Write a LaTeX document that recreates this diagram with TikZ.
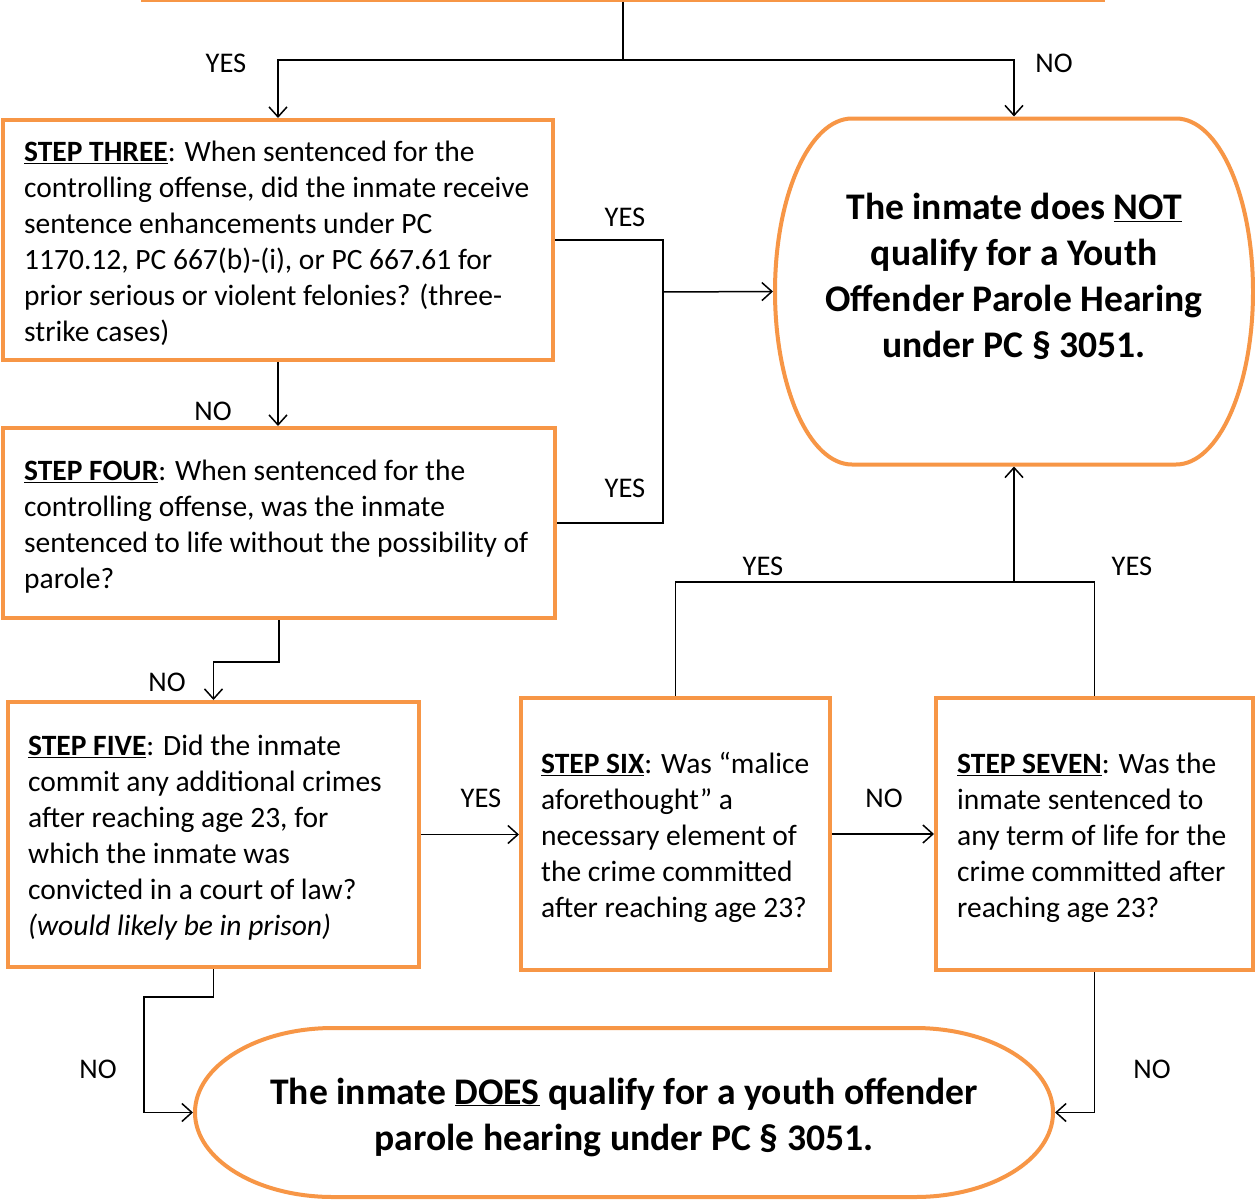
\documentclass[tikz,border=0pt]{standalone}
\usepackage{fontspec}
\setmainfont{Carlito}
\usetikzlibrary{arrows.meta}
\definecolor{borange}{HTML}{F79646}
\begin{document}
\begin{tikzpicture}[x=1pt,y=1pt,
 box/.style={draw=borange,line width=4pt,rectangle,inner sep=0pt},
 term/.style={rectangle,inner sep=0pt,outer sep=0pt},
 tborder/.style={draw=borange,line width=4pt},
 body/.style={anchor=west,align=left,inner sep=0pt,font=\fontsize{29.5}{36}\selectfont},
 big/.style={align=center,inner sep=0pt,font=\fontsize{37.6}{46}\selectfont\bfseries},
 lab/.style={font=\fontsize{28.5}{32}\selectfont,inner sep=0pt},
 conn/.style={draw=black,line width=1.5pt},
 arr/.style={conn,-{Straight Barb[length=10pt,width=18pt,line width=1.5pt]}},
]
\useasboundingbox (0,0) rectangle (1255,-1199);
\clip (0,0) rectangle (1255,-1199);
\fill[white] (0,0) rectangle (1255,-1199);

% boxes
\node[box,minimum width=960pt,minimum height=40pt] (b2) at (623,20) {};
\node[box,minimum width=550pt,minimum height=240pt] (b3) at (278,-240) {};
\node[box,minimum width=552pt,minimum height=190pt] (b4) at (279,-523) {};
\node[box,minimum width=411pt,minimum height=265pt] (b5) at (213.5,-834.5) {};
\node[box,minimum width=309pt,minimum height=272pt] (b6) at (675.5,-834) {};
\node[box,minimum width=317pt,minimum height=272pt] (b7) at (1094.5,-834) {};

% terminators
\node[term,minimum width=478pt,minimum height=346pt] (not) at (1014,-291.5) {};
\draw[tborder] ([xshift=77pt]not.north west) -- ([xshift=-77pt]not.north east)
  arc[start angle=90,end angle=-90,x radius=77pt,y radius=173pt]
  -- ([xshift=77pt]not.south west)
  arc[start angle=270,end angle=90,x radius=77pt,y radius=173pt] -- cycle;
\node[term,minimum width=858pt,minimum height=169pt] (does) at (624,-1112.5) {};
\draw[tborder] ([xshift=138pt]does.north west) -- ([xshift=-138pt]does.north east)
  arc[start angle=90,end angle=-90,x radius=138pt,y radius=84.5pt]
  -- ([xshift=138pt]does.south west)
  arc[start angle=270,end angle=90,x radius=138pt,y radius=84.5pt] -- cycle;

% texts
\node[body] (t3) at ([xshift=23pt,yshift=-3.5pt]b3.west) {\underline{\textbf{STEP THREE}}: When sentenced for the\\controlling offense, did the inmate receive\\sentence enhancements under PC\\1170.12, PC 667(b)-(i), or PC 667.61 for\\prior serious or violent felonies? (three-\\strike cases)};
\node[body] (t4) at ([xshift=23pt,yshift=-3.5pt]b4.west) {\underline{\textbf{STEP FOUR}}: When sentenced for the\\controlling offense, was the inmate\\sentenced to life without the possibility of\\parole?};
\node[body] (t5) at ([xshift=22pt,yshift=-3.5pt]b5.west) {\underline{\textbf{STEP FIVE}}: Did the inmate\\commit any additional crimes\\after reaching age 23, for\\which the inmate was\\convicted in a court of law?\\\textit{(would likely be in prison)}};
\node[body] (t6) at ([xshift=22pt,yshift=-3.5pt]b6.west) {\underline{\textbf{STEP SIX}}: Was “malice\\aforethought” a\\necessary element of\\the crime committed\\after reaching age 23?};
\node[body] (t7) at ([xshift=23pt,yshift=-3.5pt]b7.west) {\underline{\textbf{STEP SEVEN}}: Was the\\inmate sentenced to\\any term of life for the\\crime committed after\\reaching age 23?};
\node[big] (tnot) at (1014,-276) {The inmate does \underline{NOT}\\qualify for a Youth\\Offender Parole Hearing\\under PC § 3051.};
\node[big] (tdoes) at (624,-1117) {The inmate \underline{DOES} qualify for a youth offender\\parole hearing under PC § 3051.};

% connectors
\coordinate (j0) at (623,-60);
\draw[conn] (b2.south) -- (j0);
\draw[arr] (j0) -| (b3.north);
\draw[arr] (j0) -| ([yshift=2pt]not.north);
\coordinate (jy) at (663,-292);
\draw[conn] (b3.east) -| (jy);
\draw[conn] (b4.east) -| (jy);
\draw[arr] (jy) -- ([xshift=-2pt]not.west);
\draw[arr] (b3.south) -- (b3.south |- b4.north);
\draw[arr] (b4.south) -- ++(0,-42) -| (b5.north);
\draw[arr] (b5.east) -- (b5.east -| b6.west);
\draw[arr] (b6.east) -- (b6.east -| b7.west);
\coordinate (ju) at (1014,-582);
\draw[conn] (b6.north) |- (ju);
\draw[conn] (b7.north) |- (ju);
\draw[arr] (ju) -- ([yshift=-2pt]not.south);
\coordinate (c5) at (144,-997);
\draw[arr] (b5.south) |- (c5) |- ([xshift=-2pt]does.west);
\draw[arr] (b7.south) |- ([xshift=2pt]does.east);

% labels
\node[lab] (l1) at (226,-63) {YES};
\node[lab] (l2) at (1054,-63) {NO};
\node[lab] (l3) at (625,-217) {YES};
\node[lab] (l4) at (625,-488) {YES};
\node[lab] (l5) at (213,-411) {NO};
\node[lab] (l6) at (167,-682) {NO};
\node[lab] (l7) at (481,-798) {YES};
\node[lab] (l8) at (884,-798) {NO};
\node[lab] (l9) at (763,-566) {YES};
\node[lab] (l10) at (1132,-566) {YES};
\node[lab] (l11) at (98,-1069) {NO};
\node[lab] (l12) at (1152,-1069) {NO};
\end{tikzpicture}
\end{document}
